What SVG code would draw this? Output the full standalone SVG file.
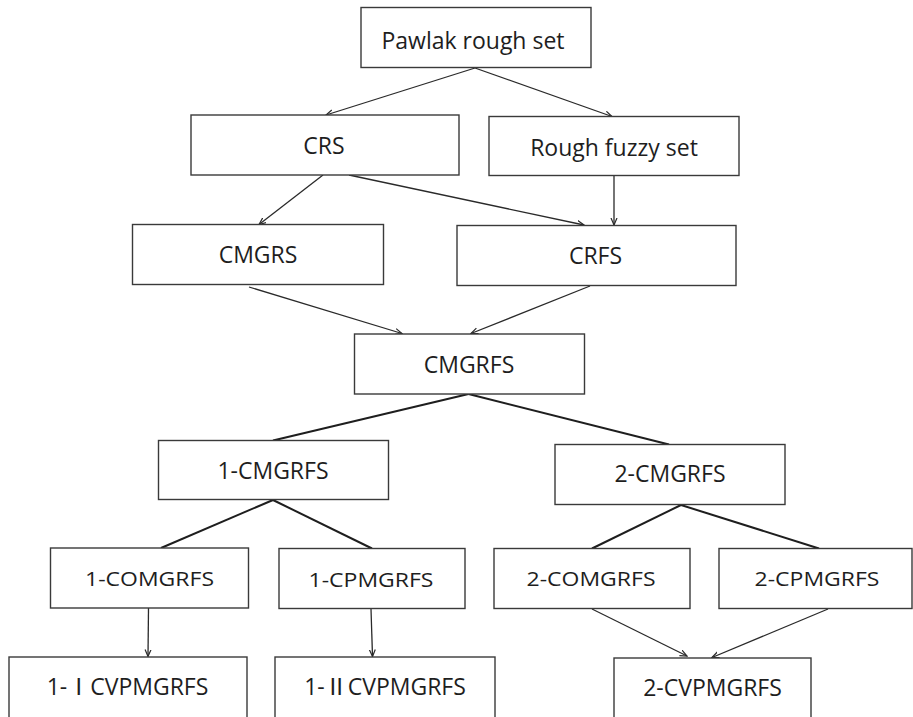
<svg xmlns="http://www.w3.org/2000/svg" width="913" height="717" viewBox="0 0 913 717">
  <style>
    .box { fill: #ffffff; stroke: #3a3a3a; stroke-width: 1.4; }
    .lbl { font-family: "Open Sans", "Liberation Sans", "Noto Sans CJK SC", sans-serif; font-size: 23px; fill: #1e1e1e; text-anchor: middle; }
    .arr { fill: none; stroke: #2a2a2a; stroke-width: 1.3; marker-end: url(#ah); }
    .ln { fill: none; stroke: #1e1e1e; stroke-width: 2; }
  </style>
  <defs>
    <marker id="ah" markerUnits="userSpaceOnUse" markerWidth="8" markerHeight="8" refX="7" refY="3.5" orient="auto">
      <path d="M0,0.5 L7,3.5 L0,6.5" fill="none" stroke="#2a2a2a" stroke-width="1.2"/>
    </marker>
  </defs>
  <rect x="0" y="0" width="913" height="717" fill="#ffffff"/>

  <g id="connectors">
    <line class="arr" x1="475" y1="68" x2="326" y2="115"/>
    <line class="arr" x1="475" y1="68" x2="612" y2="116.5"/>
    <line class="arr" x1="323" y1="175" x2="259" y2="224.5"/>
    <line class="arr" x1="349" y1="175" x2="584" y2="225"/>
    <line class="arr" x1="614" y1="176" x2="614" y2="225"/>
    <line class="arr" x1="249" y1="287" x2="402" y2="333.5"/>
    <line class="arr" x1="590" y1="286" x2="471" y2="333.5"/>
    <line class="arr" x1="148.5" y1="608" x2="148" y2="656.5"/>
    <line class="arr" x1="371" y1="609" x2="372.5" y2="656.5"/>
    <line class="arr" x1="592" y1="609" x2="687" y2="656"/>
    <line class="arr" x1="828" y1="609" x2="712" y2="657.5"/>
    <line class="ln" x1="468.5" y1="394" x2="273" y2="440.5"/>
    <line class="ln" x1="468.5" y1="394" x2="669" y2="444.5"/>
    <line class="ln" x1="273" y1="500" x2="161" y2="548"/>
    <line class="ln" x1="273" y1="500" x2="372" y2="548.5"/>
    <line class="ln" x1="681" y1="505" x2="592" y2="548.5"/>
    <line class="ln" x1="681" y1="505" x2="819" y2="548.5"/>
  </g>

  <g id="pawlak"><rect class="box" x="361" y="7.5" width="230" height="60"/><text class="lbl" x="473" y="48.5">Pawlak rough set</text></g>
  <g id="crs"><rect class="box" x="191" y="115" width="268" height="60"/><text class="lbl" x="324" y="154">CRS</text></g>
  <g id="rfs"><rect class="box" x="489" y="116.5" width="250" height="59"/><text class="lbl" x="614" y="156">Rough fuzzy set</text></g>
  <g id="cmgrs"><rect class="box" x="132.5" y="224.5" width="251" height="60"/><text class="lbl" x="258" y="263">CMGRS</text></g>
  <g id="crfs"><rect class="box" x="457" y="225.5" width="279" height="60"/><text class="lbl" x="595.5" y="264">CRFS</text></g>
  <g id="cmgrfs"><rect class="box" x="354.5" y="334" width="230" height="60"/><text class="lbl" x="469" y="373">CMGRFS</text></g>
  <g id="cmgrfs1"><rect class="box" x="158.5" y="440.5" width="230" height="59"/><text class="lbl" x="273" y="479">1-CMGRFS</text></g>
  <g id="cmgrfs2"><rect class="box" x="555" y="444.5" width="230" height="60"/><text class="lbl" x="670" y="482">2-CMGRFS</text></g>
  <g id="comgrfs1"><rect class="box" x="50.5" y="548" width="198" height="60"/><text class="lbl" transform="translate(149.5,586) scale(1,0.88)">1-COMGRFS</text></g>
  <g id="cpmgrfs1"><rect class="box" x="279" y="548.5" width="186" height="60"/><text class="lbl" transform="translate(371,587) scale(1,0.88)">1-CPMGRFS</text></g>
  <g id="comgrfs2"><rect class="box" x="494" y="548.5" width="196" height="60"/><text class="lbl" transform="translate(591,586) scale(1,0.88)">2-COMGRFS</text></g>
  <g id="cpmgrfs2"><rect class="box" x="719" y="548.5" width="193" height="60"/><text class="lbl" transform="translate(817,586) scale(1,0.88)">2-CPMGRFS</text></g>
  <g id="cvpmgrfs1i"><rect class="box" x="9" y="657" width="238" height="70"/><text class="lbl" x="127.5" y="695">1-ⅠCVPMGRFS</text></g>
  <g id="cvpmgrfs1ii"><rect class="box" x="275" y="657" width="220" height="70"/><text class="lbl" x="385" y="695">1-ⅡCVPMGRFS</text></g>
  <g id="cvpmgrfs2"><rect class="box" x="614" y="658" width="197" height="70"/><text class="lbl" x="712.5" y="696">2-CVPMGRFS</text></g>
</svg>
